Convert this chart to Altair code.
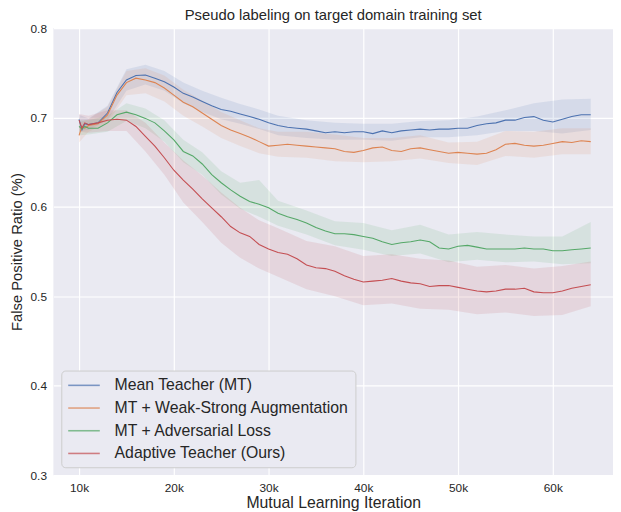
import altair as alt
import pandas as pd

# ---- data (x in thousands of iterations) ----
iters = [10.0, 10.3, 10.6] + list(range(11, 65))

mt = [0.698, 0.686, 0.693, 0.692, 0.694, 0.705, 0.728, 0.742, 0.747, 0.7475, 0.744, 0.740,
      0.734, 0.727, 0.723, 0.718, 0.713, 0.709, 0.707, 0.704, 0.701, 0.698, 0.694, 0.691,
      0.689, 0.688, 0.687, 0.685, 0.683, 0.684, 0.683, 0.684, 0.684, 0.682, 0.685, 0.683,
      0.685, 0.686, 0.687, 0.686, 0.687, 0.687, 0.688, 0.688, 0.691, 0.693, 0.694, 0.697,
      0.697, 0.700, 0.701, 0.697, 0.695, 0.698, 0.701, 0.703, 0.703]
ws = [0.680, 0.690, 0.688, 0.691, 0.693, 0.703, 0.725, 0.739, 0.744, 0.742, 0.739, 0.733,
      0.725, 0.717, 0.712, 0.705, 0.698, 0.691, 0.686, 0.682, 0.678, 0.673, 0.668, 0.669,
      0.670, 0.669, 0.668, 0.667, 0.666, 0.665, 0.662, 0.661, 0.663, 0.666, 0.667, 0.663,
      0.662, 0.665, 0.666, 0.664, 0.662, 0.660, 0.661, 0.660, 0.659, 0.660, 0.664, 0.670,
      0.671, 0.669, 0.668, 0.669, 0.671, 0.673, 0.672, 0.674, 0.673]
adv = [0.690, 0.687, 0.690, 0.688, 0.688, 0.694, 0.703, 0.706, 0.703, 0.699, 0.694, 0.685,
       0.675, 0.662, 0.657, 0.648, 0.636, 0.627, 0.619, 0.612, 0.606, 0.603, 0.599, 0.593,
       0.589, 0.586, 0.582, 0.577, 0.573, 0.570, 0.570, 0.569, 0.567, 0.565, 0.561, 0.558,
       0.560, 0.561, 0.563, 0.561, 0.554, 0.553, 0.556, 0.557, 0.555, 0.553, 0.553, 0.553,
       0.553, 0.554, 0.553, 0.553, 0.551, 0.551, 0.552, 0.553, 0.554]
at = [0.697, 0.688, 0.694, 0.692, 0.694, 0.697, 0.698, 0.697, 0.690, 0.679, 0.668, 0.655,
      0.641, 0.630, 0.620, 0.609, 0.599, 0.589, 0.578, 0.571, 0.567, 0.558, 0.553, 0.549,
      0.547, 0.542, 0.535, 0.532, 0.531, 0.528, 0.523, 0.519, 0.516, 0.517, 0.518, 0.520,
      0.517, 0.515, 0.514, 0.511, 0.512, 0.512, 0.510, 0.508, 0.506, 0.505, 0.506, 0.508,
      0.508, 0.509, 0.505, 0.504, 0.504, 0.506, 0.509, 0.511, 0.513]

band_x = [10, 11, 13, 15, 17, 19, 21, 23, 25, 27, 29, 31, 34, 37, 40, 43, 46, 49, 52, 55, 58, 61, 64]
mt_lo = [0.685, 0.686, 0.697, 0.730, 0.737, 0.730, 0.716, 0.706, 0.698, 0.693, 0.687, 0.680,
         0.677, 0.675, 0.675, 0.674, 0.678, 0.678, 0.680, 0.685, 0.685, 0.682, 0.686]
mt_hi = [0.703, 0.699, 0.713, 0.754, 0.759, 0.752, 0.739, 0.730, 0.722, 0.715, 0.709, 0.702,
         0.697, 0.694, 0.693, 0.693, 0.696, 0.697, 0.701, 0.708, 0.716, 0.720, 0.721]
ws_lo = [0.672, 0.684, 0.694, 0.725, 0.727, 0.718, 0.702, 0.690, 0.677, 0.668, 0.660, 0.656,
         0.655, 0.651, 0.650, 0.651, 0.654, 0.649, 0.647, 0.657, 0.655, 0.659, 0.659]
ws_hi = [0.694, 0.698, 0.712, 0.752, 0.755, 0.747, 0.731, 0.719, 0.706, 0.697, 0.688, 0.684,
         0.684, 0.681, 0.677, 0.677, 0.680, 0.672, 0.673, 0.685, 0.684, 0.688, 0.688]
adv_lo = [0.680, 0.681, 0.684, 0.696, 0.688, 0.673, 0.650, 0.636, 0.614, 0.598, 0.589, 0.579,
          0.569, 0.557, 0.552, 0.545, 0.548, 0.538, 0.541, 0.538, 0.539, 0.536, 0.537]
adv_hi = [0.697, 0.697, 0.702, 0.716, 0.710, 0.697, 0.675, 0.661, 0.640, 0.627, 0.630, 0.607,
          0.596, 0.584, 0.582, 0.574, 0.580, 0.569, 0.572, 0.569, 0.567, 0.567, 0.583]
at_lo = [0.684, 0.683, 0.685, 0.685, 0.662, 0.636, 0.605, 0.583, 0.560, 0.543, 0.531, 0.522,
         0.508, 0.500, 0.490, 0.492, 0.486, 0.485, 0.480, 0.482, 0.478, 0.479, 0.489]
at_hi = [0.704, 0.702, 0.708, 0.708, 0.694, 0.672, 0.652, 0.635, 0.616, 0.599, 0.585, 0.576,
         0.562, 0.556, 0.545, 0.547, 0.542, 0.540, 0.533, 0.535, 0.531, 0.534, 0.539]

names = ["Mean Teacher (MT)", "MT + Weak-Strong Augmentation",
         "MT + Adversarial Loss", "Adaptive Teacher (Ours)"]
colors = ["#4C72B0", "#DD8452", "#55A868", "#C44E52"]
x_ticks = [10, 20, 30, 40, 50, 60]
y_ticks = [0.3, 0.4, 0.5, 0.6, 0.7, 0.8]

# ---- tables ----
line_rows, band_rows = [], []
for n, m in zip(names, [mt, ws, adv, at]):
    for x, v in zip(iters, m):
        line_rows.append({"it": x, "val": v, "series": n})
for n, lo, hi in zip(names, [mt_lo, ws_lo, adv_lo, at_lo], [mt_hi, ws_hi, adv_hi, at_hi]):
    for x, a, b in zip(band_x, lo, hi):
        band_rows.append({"it": x, "lo": a, "hi": b, "bseries": n})
lines_df = pd.DataFrame(line_rows)
bands_df = pd.DataFrame(band_rows)

xscale = alt.Scale(domain=[7.29, 66.35], nice=False, zero=False)
yscale = alt.Scale(domain=[0.3, 0.8], nice=False, zero=False)

xaxis = alt.Axis(values=x_ticks, labelExpr="datum.value + 'k'", title="Mutual Learning Iteration",
                 titleFontSize=16, titleFontWeight="normal", labelFontSize=12, labelPadding=8,
                 titlePadding=1, ticks=False, domain=False, grid=True)
yaxis = alt.Axis(values=y_ticks, format=".1f", title="False Positive Ratio (%)",
                 titleFontSize=15, titleFontWeight="normal", labelFontSize=12, labelPadding=7,
                 titlePadding=6, ticks=False, domain=False, grid=True)

bands = alt.Chart(bands_df).mark_area(opacity=0.13).encode(
    x=alt.X("it:Q", scale=xscale, axis=xaxis),
    y=alt.Y("lo:Q", scale=yscale, axis=yaxis),
    y2="hi:Q",
    fill=alt.Fill("bseries:N", scale=alt.Scale(domain=names, range=colors), legend=None),
    detail="bseries:N",
)

lines = alt.Chart(lines_df).mark_line(strokeWidth=1.1).encode(
    x=alt.X("it:Q", scale=xscale),
    y=alt.Y("val:Q", scale=yscale),
    color=alt.Color("series:N", scale=alt.Scale(domain=names, range=colors), sort=names,
                    legend=alt.Legend(title=None, orient="bottom-left", offset=8,
                                      symbolType="M-1,0H3", symbolSize=256,
                                      symbolStrokeWidth=1.6, symbolOpacity=0.7,
                                      labelFontSize=16, labelColor="#262626", labelLimit=0,
                                      rowPadding=6, labelOffset=30,
                                      fillColor="#EAEAF2", strokeColor="#CCCCCC",
                                      cornerRadius=4, padding=6)),
    detail="series:N",
)

chart = alt.layer(bands, lines).resolve_scale(fill="independent").properties(
    width=567, height=453,
    title=alt.Title("Pseudo labeling on target domain training set", fontSize=15,
                    fontWeight="normal", color="#262626", offset=-1),
    autosize=alt.AutoSizeParams(type="none"),
    padding={"left": 46, "top": 17, "right": 0, "bottom": 34},
).configure(
    font="Liberation Sans",
).configure_view(
    fill="#EAEAF2", stroke=None,
).configure_axis(
    gridColor="#FFFFFF", gridWidth=1.2, labelColor="#262626", titleColor="#262626",
    labelFont="Liberation Sans", titleFont="Liberation Sans",
).configure_legend(
    labelFont="Liberation Sans",
)

chart.save("out.html", embed_options={"renderer": "svg", "actions": False})
